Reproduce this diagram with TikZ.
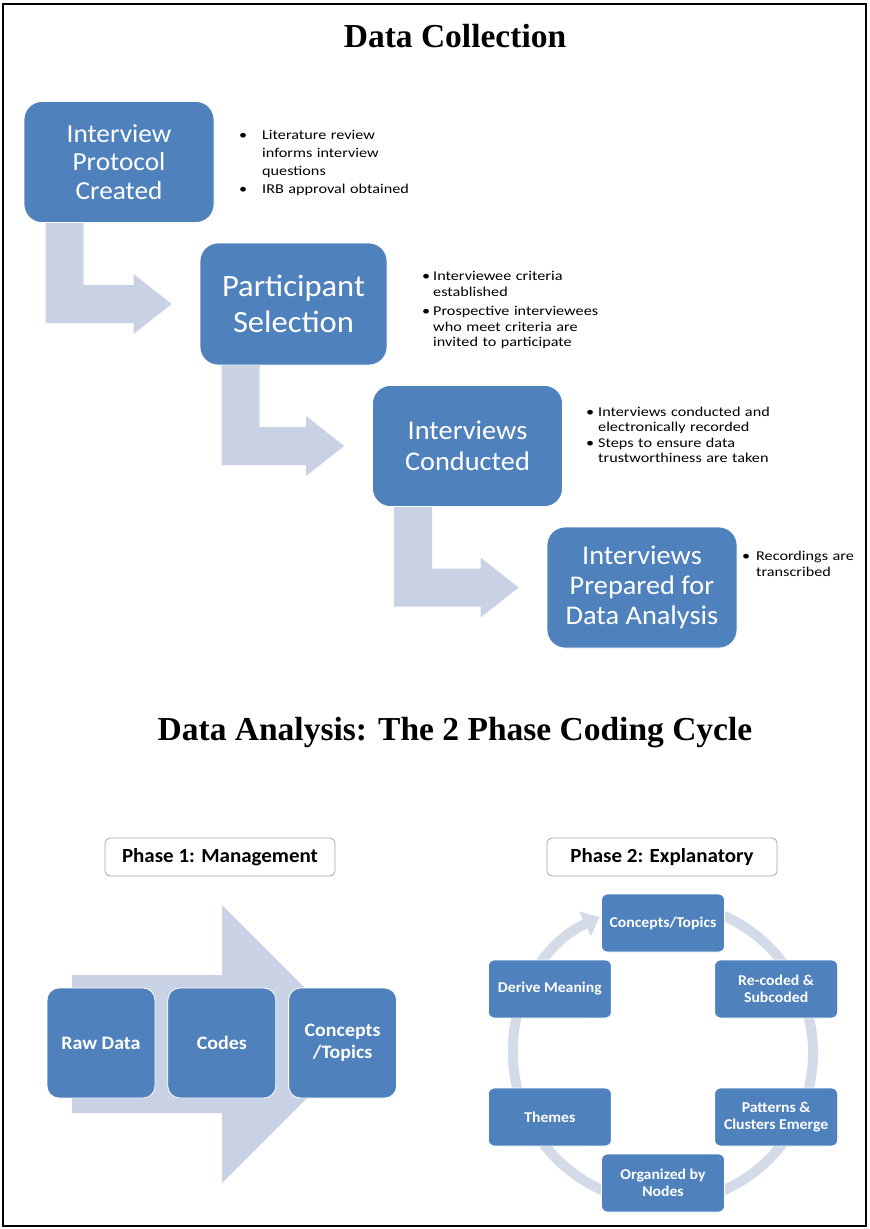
\documentclass[tikz,border=0pt]{standalone}
\usepackage{fontspec}
\setmainfont{Carlito}
\newfontfamily\boxfont[FakeStretch=1.05]{Carlito}
\newfontfamily\notefont[FakeStretch=1.2]{Carlito}
\newfontfamily\headfont{Liberation Serif}
\usetikzlibrary{positioning,calc,backgrounds,arrows.meta}
\definecolor{boxblue}{HTML}{4F81BD}
\definecolor{arrowgray}{HTML}{C9D2E4}
\definecolor{ringgray}{HTML}{D3DAE8}
\tikzset{
  stepbox/.style={fill=boxblue, draw=white, line width=0.8pt, rounded corners=18pt, text=white, align=center, minimum width=190pt, minimum height=121pt, inner sep=2pt},
  notes/.style={anchor=north west, align=left, inner sep=0pt, text width=230pt, font=\notefont\fontsize{13.5}{15.5}\selectfont},
  head/.style={font=\headfont\bfseries\fontsize{33.5}{36}\selectfont},
  phase/.style={draw=gray!70, fill=white, rounded corners=5pt, line width=0.8pt, minimum width=230pt, minimum height=38pt, font=\boxfont\bfseries\fontsize{20}{22}\selectfont},
  codebox/.style={fill=boxblue, draw=white, line width=0.8pt, rounded corners=12pt, text=white, align=center, minimum width=108pt, minimum height=110pt, inner sep=2pt, font=\boxfont\bfseries\fontsize{19}{22}\selectfont},
  cyclebox/.style={fill=boxblue, draw=white, line width=0.8pt, rounded corners=6pt, text=white, align=center, minimum width=123pt, minimum height=58pt, inner sep=2pt, font=\boxfont\bfseries\fontsize{15}{17.5}\selectfont},
  bentfill/.style={fill=arrowgray},
}
\newcommand{\bitem}[2][12pt]{\par\noindent\hangindent=#1\hangafter=1\makebox[#1][l]{\textbullet}#2\par}
\begin{document}
\begin{tikzpicture}[x=1pt,y=-1pt]
	\useasboundingbox (0,0) rectangle (870,1229);
	\draw[line width=1.2pt] (3,4) rectangle (866,1226);
	% data collection
	\node[head] (t1) at (455,36) {Data Collection};
	\node[stepbox, font=\boxfont\fontsize{26}{28.5}\selectfont] (b1) at (119,162) {Interview\\Protocol\\Created};
	\node[stepbox, minimum width=187pt, minimum height=122pt, font=\boxfont\fontsize{31}{36}\selectfont] (b2) at (293.5,304) {Participant\\Selection};
	\node[stepbox, font=\boxfont\fontsize{27}{31}\selectfont] (b3) at (467.5,446) {Interviews\\Conducted};
	\node[stepbox, font=\boxfont\fontsize{27}{30}\selectfont] (b4) at (642,587.5) {Interviews\\Prepared for\\Data Analysis};
	\node[notes, font=\notefont\fontsize{13.5}{18}\selectfont] (n1) at (239,121) {\bitem[23pt]{Literature review\newline informs interview\newline questions}\bitem[23pt]{IRB approval obtained}};
	\node[notes] (n2) at (422,265) {\bitem[11pt]{Interviewee criteria\newline established}\vspace{4pt}\bitem[11pt]{Prospective interviewees\newline who meet criteria are\newline invited to participate}};
	\node[notes, font=\notefont\fontsize{13.5}{14.5}\selectfont] (n3) at (586,402) {\bitem{Interviews conducted and\newline electronically recorded}\vspace{2pt}\bitem{Steps to ensure data\newline trustworthiness are taken}};
	\node[notes, text width=120pt] (n4) at (742,545) {\bitem[14pt]{Recordings are\newline transcribed}};
	\begin{pgfonlayer}{background}
		\foreach \s/\t in {b1/b2,b2/b3,b3/b4}{
			\fill[bentfill] let \p1=(\s.south west), \p2=(\t.west) in
				(\x1+22,\y1+4) -- (\x1+22,\y2-19) -- (\x2-66,\y2-19) -- (\x2-66,\y2-30) -- (\x2-28,\y2)
				-- (\x2-66,\y2+30) -- (\x2-66,\y2+19) -- (\x1+60,\y2+19) -- (\x1+60,\y1+4) -- cycle;}
	\end{pgfonlayer}
	% data analysis
	\node[head] (t2) at (455,733) {Data Analysis: The 2 Phase Coding Cycle};
	\node[phase] (p1) at (220,857) {Phase 1: Management};
	\node[phase] (p2) at (662,857) {Phase 2: Explanatory};
	\fill[arrowgray] (72,975) -- (222,975) -- (222,905) -- (361,1044) -- (222,1183) -- (222,1113) -- (72,1113) -- cycle;
	\node[codebox] (raw) at (101,1043) {Raw Data};
	\node[codebox, right=12pt of raw] (codes) {Codes};
	\node[codebox, right=12pt of codes] (concepts) {Concepts\\/Topics};
	\coordinate (cyc) at (663,1053);
	\def\rc{130}
	\node[cyclebox] (c1) at ($(cyc)+(270:\rc)$) {Concepts/Topics};
	\node[cyclebox] (c2) at ($(cyc)+(330.5:\rc)$) {Re-coded \&\\Subcoded};
	\node[cyclebox] (c3) at ($(cyc)+(29.5:\rc)$) {Patterns \&\\Clusters Emerge};
	\node[cyclebox] (c4) at ($(cyc)+(90:\rc)$) {Organized by\\Nodes};
	\node[cyclebox] (c5) at ($(cyc)+(150.5:\rc)$) {Themes};
	\node[cyclebox] (c6) at ($(cyc)+(209.5:\rc)$) {Derive Meaning};
	\begin{pgfonlayer}{background}
		\draw[ringgray, line width=10pt, -{Triangle[width=26pt,length=16pt]}] ($(cyc)+(250:150)$) arc (250:605:150);
	\end{pgfonlayer}
\end{tikzpicture}
\end{document}
